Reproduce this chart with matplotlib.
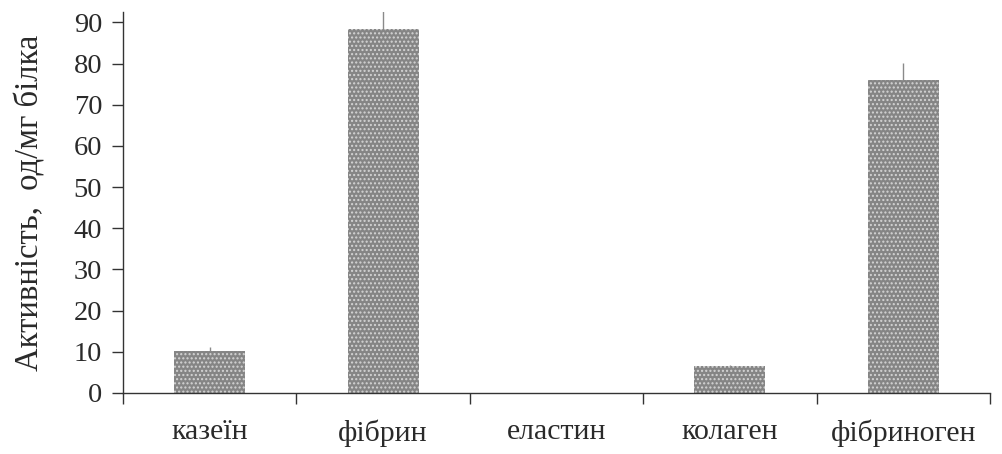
"""Proteolytic activity of the enzyme towards different protein substrates."""

import matplotlib
matplotlib.use("Agg")
import matplotlib.pyplot as plt
import numpy as np

substrates = ["казеїн", "фібрин", "еластин", "колаген", "фібриноген"]
activity = [10.3, 88.5, 0.0, 6.5, 76.0]
activity_err = [0.9, 4.2, 0.0, 0.4, 4.2]

plt.rcParams["font.family"] = ["Liberation Serif", "DejaVu Serif"]
plt.rcParams["hatch.color"] = "#d4d4d4"
plt.rcParams["hatch.linewidth"] = 1.0

fig = plt.figure(figsize=(10.02, 4.54), dpi=100)
ax = fig.add_axes([0.1228, 0.1344, 0.8652, 0.839])

x = np.arange(len(substrates))
ax.bar(x, activity, width=0.41, color="#858585", hatch="....", linewidth=0, zorder=2)
ax.errorbar(x, activity, yerr=[np.zeros(len(activity)), activity_err],
            fmt="none", ecolor="#8a8a8a", elinewidth=1.0, capsize=0, zorder=3)

ax.set_xlim(-0.5, len(substrates) - 0.5)
ax.set_ylim(0, 92.5)
ax.set_yticks(np.arange(0, 91, 10))

ax.set_xticks(x)
ax.set_xticklabels(substrates, fontsize=21.5, color="#2a2a2a")
ax.tick_params(axis="x", which="major", length=0, pad=19)
ax.set_xticks(np.arange(-0.5, len(substrates), 1.0), minor=True)
ax.tick_params(axis="x", which="minor", length=8, width=1.0, color="#333333")
ax.tick_params(axis="y", length=8, width=1.0, color="#333333",
               labelsize=20.5, labelcolor="#2a2a2a", pad=7)

for side in ("top", "right"):
    ax.spines[side].set_visible(False)
for side in ("left", "bottom"):
    ax.spines[side].set_color("#333333")
    ax.spines[side].set_linewidth(1.0)

ax.set_ylabel("Активність,  од/мг білка", fontsize=23.5, color="#2a2a2a", labelpad=20)

fig.savefig("out.png", dpi=100)
